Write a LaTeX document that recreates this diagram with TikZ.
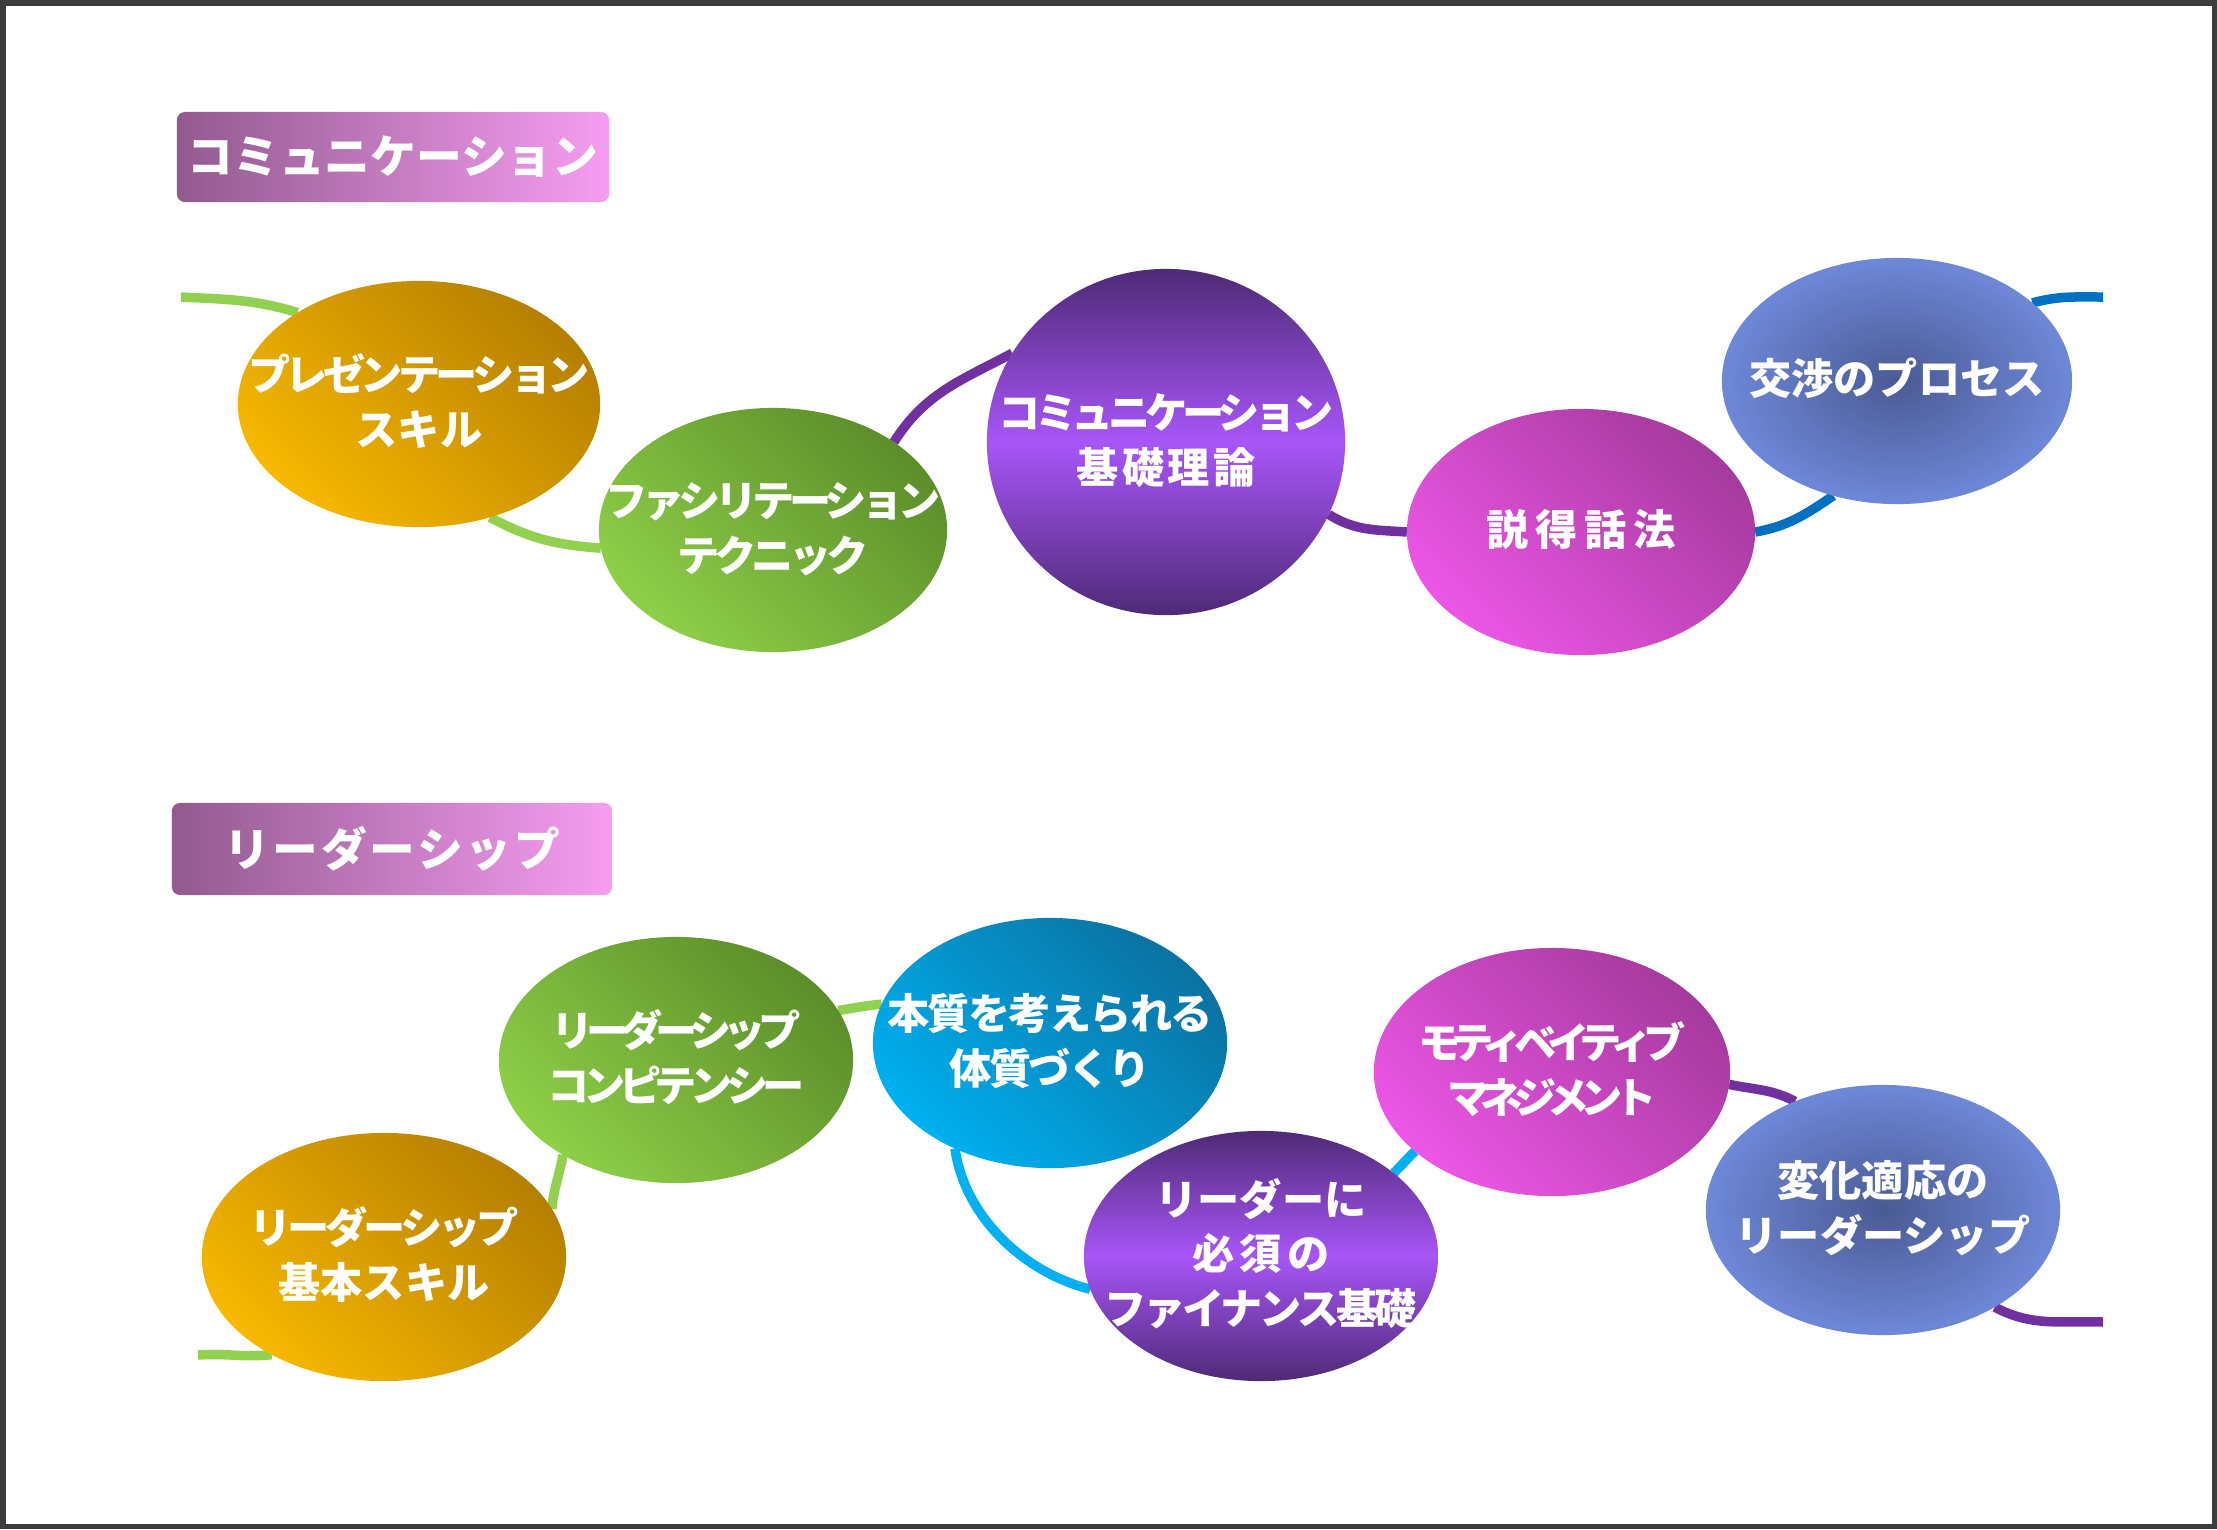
\documentclass[tikz,border=0pt]{standalone}
\usepackage{fontspec}
\newfontfamily\jp{Noto Sans CJK JP}
\usetikzlibrary{shapes.geometric,backgrounds}
\definecolor{orD}{HTML}{B67F00}
\definecolor{orL}{HTML}{F6B800}
\definecolor{grD}{HTML}{5C8E2A}
\definecolor{grL}{HTML}{8ECF48}
\definecolor{mgD}{HTML}{A63A9E}
\definecolor{mgL}{HTML}{EC56E6}
\definecolor{cyD}{HTML}{0A72A2}
\definecolor{cyL}{HTML}{00B0F0}
\definecolor{puD}{HTML}{4E2A76}
\definecolor{puL}{HTML}{A855F8}
\definecolor{blI}{HTML}{4A5A94}
\definecolor{blO}{HTML}{6E88D8}
\definecolor{tiL}{HTML}{925A8F}
\definecolor{tiR}{HTML}{F69DF1}
\definecolor{lnG}{HTML}{92D050}
\definecolor{lnP}{HTML}{7030A0}
\definecolor{lnB}{HTML}{0070C0}
\definecolor{lnC}{HTML}{00B0F0}
\definecolor{frm}{HTML}{3C3C3C}
\newcommand\etext[1]{\makebox[0pt]{\raisebox{-0.32em}[0pt][0pt]{\begin{tabular}{@{}c@{}}#1\end{tabular}}}}
\newcommand\ls[2]{{\addfontfeatures{LetterSpace=#1}#2}}
\begin{document}
\begin{tikzpicture}[x=0.01cm,y=0.01cm,
  ell/.style={ellipse, inner sep=0pt, outer sep=0pt, text=white,
    font=\jp\bfseries\fontsize{12}{15.6}\selectfont},
  esize/.style 2 args={minimum width=#1*0.02cm, minimum height=#2*0.02cm},
  orangeb/.style={top color=orD, bottom color=orL, shading angle=-45},
  greenb/.style={top color=grD, bottom color=grL, shading angle=-45},
  magentab/.style={top color=mgD, bottom color=mgL, shading angle=-45},
  cyanb/.style={top color=cyD, bottom color=cyL, shading angle=-45},
  purpleb/.style={top color=puD, bottom color=puD, middle color=puL},
  blueb/.style={inner color=blI, outer color=blO},
  titlebox/.style={rectangle, rounded corners=0.08cm, left color=tiL, right color=tiR,
    text=white, inner sep=0pt, font=\jp\bfseries\fontsize{13}{16}\selectfont},
  conn/.style={line width=2.7pt},
  cG/.style={conn, draw=lnG},
  cP/.style={conn, draw=lnP},
  cB/.style={conn, draw=lnB},
  cC/.style={conn, draw=lnC}]
\useasboundingbox (0,0) rectangle (2217,-1529);

% titles
\node[titlebox, minimum width=4.32cm, minimum height=0.90cm] (t1) at (393,-157) {コミュニケーション};
\node[titlebox, minimum width=4.40cm, minimum height=0.92cm] (t2) at (392,-849) {\ls{6}{リーダーシップ}};

% top row
\node[ell, orangeb, esize={181}{123}] (pres) at (419,-404) {\etext{\ls{-11}{プレゼンテーション}\\スキル}};
\node[ell, greenb, esize={174}{122}] (fac) at (773,-530) {\etext{\ls{-13}{ファシリテーション}\\\ls{-12}{テクニック}}};
\node[ell, purpleb, esize={179}{173}] (theory) at (1166,-442) {\etext{\ls{-13}{コミュニケーション}\\\ls{8}{基礎理論}}};
\node[ell, magentab, esize={174}{123}] (pers) at (1581,-532) {\etext{\ls{16}{説得話法}}};
\node[ell, blueb, esize={175}{123}] (nego) at (1897,-381) {\etext{交渉のプロセス}};

% bottom row
\node[ell, orangeb, esize={182}{124}] (basic) at (384,-1257) {\etext{\ls{-10}{リーダーシップ}\\基本スキル}};
\node[ell, greenb, esize={177}{123}] (comp) at (676,-1060) {\etext{\ls{-18}{リーダーシップ}\\\ls{-15}{コンピテンシー}}};
\node[ell, cyanb, esize={177}{125}] (ess) at (1050,-1043) {\etext{\ls{-4}{本質を考えられる}\\\ls{-6}{体質づくり}}};
\node[ell, purpleb, esize={177}{125}] (fin) at (1261,-1256) {\etext{リーダーに\\\ls{12}{必須の}\\\ls{-8}{ファイナンス基礎}}};
\node[ell, magentab, esize={178}{124}] (mot) at (1552,-1072) {\etext{\ls{-22}{モティベイティブ}\\\ls{-21}{マネジメント}}};
\node[ell, blueb, esize={177}{125}] (chg) at (1883,-1210) {\etext{変化適応の\\リーダーシップ}};

\coordinate (L1) at (181,-297);
\coordinate (R1) at (2103,-297);
\coordinate (L2) at (198,-1355);
\coordinate (R2) at (2103,-1322);

\begin{pgfonlayer}{background}
\fill[white] (0,0) rectangle (2217,-1529);
\draw[cG] (L1) to[out=-3,in=163] (pres.143);
\draw[cG] (pres.-58) to[out=-28,in=176] (fac.186);
\draw[cP] (fac.36) to[out=58,in=208] (theory.150);
\draw[cP] (theory.-24) to[out=-32,in=176] (pers.180);
\draw[cB] (pers.0) to[out=10,in=214] (nego.241);
\draw[cB] (nego.30) to[out=15,in=180] (R1);
\draw[cG] (L2) to[out=4,in=186] (basic.221);
\draw[cG] (basic.16) to[out=85,in=-100] (comp.220);
\draw[cG] (comp.17) to[out=8,in=185] (ess.167);
\draw[cC] (ess.-132) to[out=-82,in=166,looseness=0.9] (fin.191);
\draw[cC] (fin.32) to[out=45,in=225] (mot.210);
\draw[cP] (mot.-4) to[out=-12,in=152] (chg.129);
\draw[cP] (chg.-41) to[out=-28,in=178] (R2);
\end{pgfonlayer}

\draw[frm, line width=0.055cm] (2.75,-2.75) rectangle (2214.25,-1526.25);
\end{tikzpicture}
\end{document}
